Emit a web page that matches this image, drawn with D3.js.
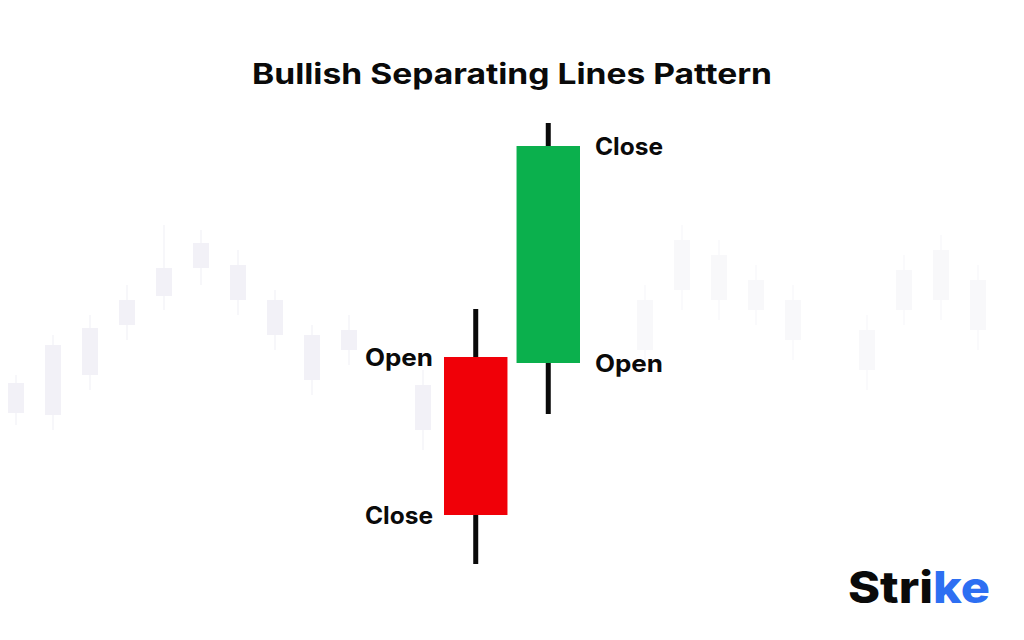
<!DOCTYPE html>
<html>
<head>
<meta charset="utf-8">
<script src="https://cdn.jsdelivr.net/npm/d3@7"></script>
<style>
  html, body { margin: 0; padding: 0; background: #ffffff; }
  svg { display: block; }
</style>
</head>
<body>
<svg id="chart" width="1024" height="640"></svg>
<script>
// ---- Data ----
const title = "Bullish Separating Lines Pattern";
const days = ["Day 1", "Day 2"];
const opens = [48.6, 47.4];
const closes = [17.0, 90.8];
const highs = [58.2, 95.4];
const lows = [7.2, 37.2];
const openLabel = "Open";
const closeLabel = "Close";
const brand = ["Stri", "ke"];

// faint background candles (decorative price history)
const bgT     = [0, 1, 2, 3, 4, 5, 6, 7, 8, 9, 11, 17, 18, 19, 20, 21, 23, 24, 25, 26];
const bgOpen  = [43.4, 51.0, 54.4, 60.0, 66.4, 71.4, 67.0, 60.0, 53.0, 54.0, 43.0, 60.0, 72.0, 69.0, 64.0, 60.0, 54.0, 66.0, 70.0, 64.0];
const bgClose = [37.4, 37.0, 45.0, 55.0, 60.8, 66.4, 60.0, 53.0, 44.0, 50.0, 34.0, 50.0, 62.0, 60.0, 58.0, 52.0, 46.0, 58.0, 60.0, 54.0];
const bgHigh  = [45.0, 53.0, 57.0, 63.0, 75.0, 74.0, 70.0, 62.0, 55.0, 57.0, 46.0, 63.0, 75.0, 72.0, 67.0, 63.0, 57.0, 69.0, 73.0, 67.0];
const bgLow   = [35.0, 34.0, 42.0, 52.0, 58.0, 63.0, 57.0, 50.0, 41.0, 47.0, 30.0, 46.0, 58.0, 56.0, 55.0, 48.0, 42.0, 55.0, 56.0, 50.0];

// ---- Scales ----
const svg = d3.select("#chart");
const y = d3.scaleLinear().domain([0, 100]).range([600, 100]);
const x = d3.scaleBand().domain(days).range([444, 580]).paddingInner(0.125);
const xb = d3.scaleLinear().domain([0, 1]).range([16, 53]);

const candles = days.map((d, i) => ({ day: d, o: opens[i], c: closes[i], h: highs[i], l: lows[i] }));
const bg = bgT.map((t, i) => ({ t, o: bgOpen[i], c: bgClose[i], h: bgHigh[i], l: bgLow[i] }));

// ---- Background candles ----
const gBg = svg.append("g");
gBg.selectAll("line").data(bg).join("line")
  .attr("x1", d => xb(d.t)).attr("x2", d => xb(d.t))
  .attr("y1", d => y(d.h)).attr("y2", d => y(d.l))
  .attr("stroke", d => d.t > 12 ? "#fafafc" : "#f7f7fa").attr("stroke-width", 2);
gBg.selectAll("rect").data(bg).join("rect")
  .attr("x", d => xb(d.t) - 8).attr("width", 16)
  .attr("y", d => y(Math.max(d.o, d.c)))
  .attr("height", d => Math.abs(y(d.o) - y(d.c)))
  .attr("fill", d => d.t > 12 ? "#f8f8fa" : "#f2f1f7");

// ---- Title ----
svg.append("text")
  .attr("x", 512).attr("y", 84)
  .attr("text-anchor", "middle")
  .attr("font-family", "Inter, 'Noto Sans', sans-serif")
  .attr("font-weight", 700).attr("font-size", 28)
  .attr("textLength", 520).attr("lengthAdjust", "spacingAndGlyphs")
  .attr("fill", "#0a0a0a")
  .text(title);

// ---- Main candles ----
const g = svg.append("g");
g.selectAll("line.wick").data(candles).join("line")
  .attr("class", "wick")
  .attr("x1", d => x(d.day) + x.bandwidth() / 2).attr("x2", d => x(d.day) + x.bandwidth() / 2)
  .attr("y1", d => y(d.h)).attr("y2", d => y(d.l))
  .attr("stroke", "#0a0a0a").attr("stroke-width", 5);
g.selectAll("rect.body").data(candles).join("rect")
  .attr("class", "body")
  .attr("x", d => x(d.day)).attr("width", x.bandwidth())
  .attr("y", d => y(Math.max(d.o, d.c)))
  .attr("height", d => Math.abs(y(d.o) - y(d.c)))
  .attr("fill", d => d.c >= d.o ? "#0bb04d" : "#f00008");

// ---- Labels ----
const labels = [];
candles.forEach(d => {
  const bull = d.c >= d.o;
  const lx = bull ? x(d.day) + x.bandwidth() + 15 : x(d.day) - 11;
  const anchor = bull ? "start" : "end";
  labels.push({ text: openLabel, x: lx, y: y(d.o), anchor });
  labels.push({ text: closeLabel, x: lx, y: y(d.c), anchor });
});
svg.append("g").selectAll("text").data(labels).join("text")
  .attr("x", d => d.x).attr("y", d => d.y + 8.5)
  .attr("text-anchor", d => d.anchor)
  .attr("font-family", "Inter, 'Noto Sans', sans-serif")
  .attr("font-weight", 700).attr("font-size", 24)
  .attr("textLength", 68).attr("lengthAdjust", "spacingAndGlyphs")
  .attr("fill", "#0a0a0a")
  .text(d => d.text);

// ---- Brand ----
const bt = svg.append("text")
  .attr("x", 848).attr("y", 603)
  .attr("font-family", "Inter, 'Noto Sans', sans-serif")
  .attr("font-weight", 800).attr("font-size", 44)
  .attr("textLength", 142).attr("lengthAdjust", "spacingAndGlyphs");
bt.append("tspan").attr("fill", "#0a0a0a").text(brand[0]);
bt.append("tspan").attr("fill", "#2d6ff2").text(brand[1]);
</script>
</body>
</html>
